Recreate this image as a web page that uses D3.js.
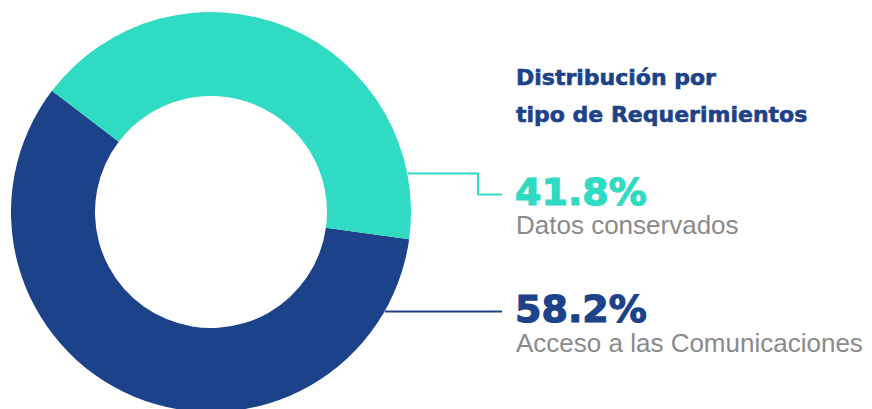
<!DOCTYPE html>
<html>
<head>
<meta charset="utf-8">
<script src="https://cdn.jsdelivr.net/npm/d3@7"></script>
<style>
  body { margin: 0; background: #fff; }
</style>
</head>
<body>
<svg id="chart" width="872" height="409"></svg>
<script>
// data
const categories = ["Acceso a las Comunicaciones", "Datos conservados"];
const values = [58.2, 41.8];
const pctLabels = ["58.2%", "41.8%"];
const titleLines = ["Distribución por", "tipo de Requerimientos"];

const colors = ["#1c4289", "#2fdbc2"];
const cx = 211, cy = 212, outerR = 200, innerR = 116;
const startDeg = 97.8;

const svg = d3.select("#chart");
const g = svg.append("g").attr("transform", "translate(" + cx + "," + cy + ")");

const pie = d3.pie()
  .sort(null)
  .startAngle(startDeg * Math.PI / 180)
  .endAngle(startDeg * Math.PI / 180 + 2 * Math.PI);

const arc = d3.arc().innerRadius(innerR).outerRadius(outerR);

g.selectAll("path.slice")
  .data(pie(values)).enter()
  .append("path")
  .attr("class", "slice")
  .attr("d", arc)
  .style("fill", (d, i) => colors[i]);

// title
svg.selectAll("text.title")
  .data(titleLines).enter()
  .append("text")
  .attr("class", "title")
  .attr("x", 516)
  .attr("y", (d, i) => 85 + i * 36.5)
  .style("font-family", "DejaVu Sans")
  .style("font-weight", "bold")
  .style("font-size", "22px")
  .style("fill", "#1c4289")
  .style("stroke", "#1c4289")
  .style("stroke-width", 0.6)
  .text(d => d);

// leader lines
const leader = d3.line();
svg.append("path")
  .attr("d", leader([[408, 173.5], [478, 173.5], [478, 194.5], [502, 194.5]]))
  .style("fill", "none")
  .style("stroke", colors[1])
  .style("stroke-width", 2);
svg.append("path")
  .attr("d", leader([[385, 311.5], [502, 311.5]]))
  .style("fill", "none")
  .style("stroke", colors[0])
  .style("stroke-width", 2);

// labels
const labelY = [322, 205];
const nameY = [352, 234];
pctLabels.forEach((p, i) => {
  svg.append("text")
    .attr("x", 515)
    .attr("y", labelY[i])
    .style("font-family", "DejaVu Sans")
    .style("font-weight", "bold")
    .style("font-size", "38px")
    .style("fill", colors[i])
    .style("stroke", colors[i])
    .style("stroke-width", 1.2)
    .text(p);
  svg.append("text")
    .attr("x", 516)
    .attr("y", nameY[i])
    .style("font-family", "Liberation Sans, Arial, sans-serif")
    .style("font-size", "26px")
    .style("fill", "#8a8a8a")
    .text(categories[i]);
});
</script>
</body>
</html>
